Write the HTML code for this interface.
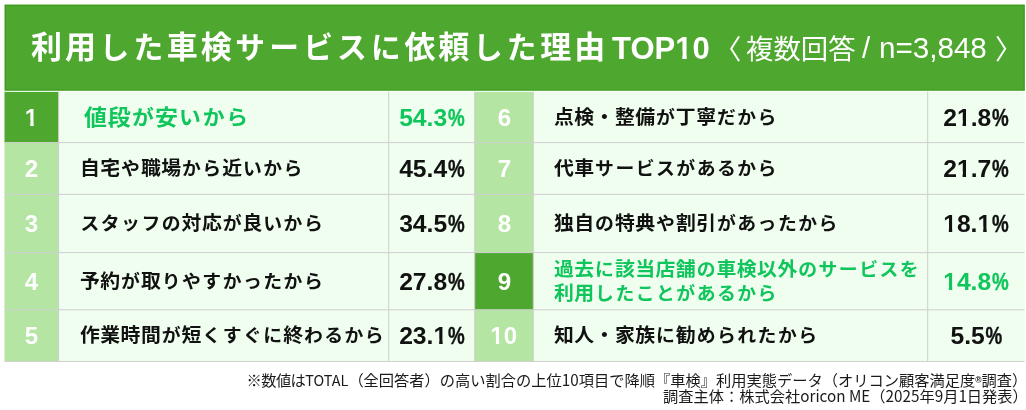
<!DOCTYPE html>
<html lang="ja">
<head>
<meta charset="utf-8">
<title>利用した車検サービスに依頼した理由 TOP10</title>
<style>
html,body{margin:0;padding:0;background:#fff;}
body{width:1026px;height:410px;position:relative;overflow:hidden;
  font-family:"Liberation Sans","Noto Sans CJK JP",sans-serif;color:#111;}
svg.bg{position:absolute;left:0;top:0;}
.t{position:absolute;white-space:nowrap;line-height:1;}
.t,.c span{will-change:transform;}
.title{color:#fff;}
.tj{left:31.3px;top:32.3px;font-family:"Liberation Sans","Noto Sans CJK JP",sans-serif;font-weight:700;font-size:31px;letter-spacing:2.95px;}
.tl{left:612px;top:33.2px;font-family:"Liberation Sans",sans-serif;font-weight:700;font-size:31px;}
.sj{font-family:"Liberation Sans","Noto Sans CJK JP",sans-serif;font-weight:400;font-size:27.4px;top:36px;}
.sl{font-family:"Liberation Sans",sans-serif;font-weight:400;font-size:29.6px;top:32.6px;}
.c{position:absolute;display:flex;align-items:center;box-sizing:border-box;white-space:nowrap;line-height:1.2;}
.c span{display:block;}
.num{justify-content:center;font-weight:700;font-size:23px;padding-top:3px;color:#fff;font-family:"Liberation Sans",sans-serif;}
.lab{padding-left:21px;font-family:"Liberation Sans","Noto Sans CJK JP",sans-serif;font-weight:700;font-size:19px;letter-spacing:.43px;color:#111;padding-top:2px;line-height:1.285;}
.lab span{transform:scaleX(1.045);transform-origin:0 50%;}
.lab.big{font-size:21.5px;letter-spacing:.62px;padding-left:25px;padding-top:4px;}
.lab.big span{transform:scaleX(1.07);}
.val{justify-content:center;font-weight:700;font-size:23.3px;padding-top:3.2px;color:#111;font-family:"Liberation Sans",sans-serif;}
b.o{display:inline-block;line-height:1;font-weight:inherit;clip-path:polygon(0 0,66.8% 0,66.8% 100%,41.4% 100%,41.4% 58%,0 58%);}
.val span{transform:scaleX(1.06);}
.num span{transform:scaleX(1.05);}
b.p{display:inline-block;line-height:1;font-weight:inherit;transform:scaleX(.76);transform-origin:0 50%;-webkit-text-stroke:.4px currentColor;margin-right:-.2em;margin-left:.03em;}
i.k{font-style:normal;font-size:.95em;letter-spacing:.078em;position:relative;left:.025em;}
.tj i.k{font-size:.96em;letter-spacing:.1408em;left:.02em;}
.hl{color:#10c65c;}
.note{right:-1.5px;text-align:right;font-size:15.25px;color:#1a1a1a;font-family:"Noto Sans CJK JP","Liberation Sans",sans-serif;font-weight:400;}
.note .lt2{font-size:14.4px;}
.note sup{font-size:8.5px;font-weight:700;vertical-align:3.5px;line-height:0;font-family:"Liberation Sans",sans-serif;}
</style>
</head>
<body>
<svg class="bg" width="1026" height="410" viewBox="0 0 1026 410">
<rect x="4.5" y="4.5" width="1020.2" height="86.1" fill="#4ea72e"/>
<rect x="5" y="5" width="1019.6" height="1" fill="#3d9a1f"/>
<rect x="5" y="5" width="1" height="85.5" fill="#3d9a1f"/>
<rect x="1023.6" y="5" width="1" height="85.5" fill="#3d9a1f"/>
<rect x="5" y="89.6" width="1019.6" height="1" fill="#3d9a1f"/>
<rect x="4.5" y="91.5" width="1020.1" height="269.7" fill="#effeee"/>
<rect x="4.5" y="91.5" width="54.1" height="51.1" fill="#4ea72e"/>
<rect x="4.5" y="142.6" width="54.1" height="51.8" fill="#b4e5a2"/>
<rect x="4.5" y="194.4" width="54.1" height="58.2" fill="#b4e5a2"/>
<rect x="4.5" y="252.6" width="54.1" height="57.2" fill="#b4e5a2"/>
<rect x="4.5" y="309.8" width="54.1" height="51.4" fill="#b4e5a2"/>
<rect x="474.7" y="91.5" width="58.6" height="51.1" fill="#b4e5a2"/>
<rect x="474.7" y="142.6" width="58.6" height="51.8" fill="#b4e5a2"/>
<rect x="474.7" y="194.4" width="58.6" height="58.2" fill="#b4e5a2"/>
<rect x="474.7" y="252.6" width="58.6" height="57.2" fill="#4ea72e"/>
<rect x="474.7" y="309.8" width="58.6" height="51.4" fill="#b4e5a2"/>
<rect x="4.5" y="90.9" width="1020.2" height="1.1" fill="#f4fff2" fill-opacity=".8"/>
<rect x="4.5" y="142.10" width="1020.1" height="1" fill="#cfcfcf"/>
<rect x="4.5" y="193.90" width="1020.1" height="1" fill="#cfcfcf"/>
<rect x="4.5" y="252.10" width="1020.1" height="1" fill="#cfcfcf"/>
<rect x="4.5" y="309.30" width="1020.1" height="1" fill="#cfcfcf"/>
<rect x="4.5" y="360.95" width="1020.1" height="1" fill="#cfcfcf"/>
<rect x="58.1" y="91.5" width="1" height="269.7" fill="#cfcfcf"/>
<rect x="388.2" y="91.5" width="1" height="269.7" fill="#cfcfcf"/>
<rect x="474.2" y="91.5" width="1" height="269.7" fill="#cfcfcf"/>
<rect x="532.8" y="91.5" width="1" height="269.7" fill="#cfcfcf"/>
<rect x="927.2" y="91.5" width="1" height="269.7" fill="#cfcfcf"/>
</svg>
<div class="t title tj">利用<i class="k">した</i>車検<i class="k">サービスに</i>依頼<i class="k">した</i>理由</div>
<div class="t title tl">TOP<b class="o">1</b>0</div>
<div class="t title sj" style="left:714px">〈</div>
<div class="t title sj" style="left:746px">複数回答</div>
<div class="t title sl" style="left:862px">/</div>
<div class="t title sl" style="left:879px">n=3,848</div>
<div class="t title sj" style="left:995px">〉</div>
<div class="c num" style="left:4.5px;top:91.5px;width:54.1px;height:51.1px"><span><b class="o">1</b></span></div>
<div class="c lab hl big" style="left:58.6px;top:91.5px;width:330.1px;height:51.1px"><span>値段<i class="k">が</i>安<i class="k">いから</i></span></div>
<div class="c val hl" style="left:388.7px;top:91.5px;width:86.0px;height:51.1px"><span>54.3<b class="p">%</b></span></div>
<div class="c num" style="left:4.5px;top:142.6px;width:54.1px;height:51.8px"><span>2</span></div>
<div class="c lab" style="left:58.6px;top:142.6px;width:330.1px;height:51.8px"><span>自宅<i class="k">や</i>職場<i class="k">から</i>近<i class="k">いから</i></span></div>
<div class="c val" style="left:388.7px;top:142.6px;width:86.0px;height:51.8px"><span>45.4<b class="p">%</b></span></div>
<div class="c num" style="left:4.5px;top:194.4px;width:54.1px;height:58.2px"><span>3</span></div>
<div class="c lab" style="left:58.6px;top:194.4px;width:330.1px;height:58.2px"><span><i class="k">スタッフの</i>対応<i class="k">が</i>良<i class="k">いから</i></span></div>
<div class="c val" style="left:388.7px;top:194.4px;width:86.0px;height:58.2px"><span>34.5<b class="p">%</b></span></div>
<div class="c num" style="left:4.5px;top:252.6px;width:54.1px;height:57.2px"><span>4</span></div>
<div class="c lab" style="left:58.6px;top:252.6px;width:330.1px;height:57.2px"><span>予約<i class="k">が</i>取<i class="k">りやすかったから</i></span></div>
<div class="c val" style="left:388.7px;top:252.6px;width:86.0px;height:57.2px"><span>27.8<b class="p">%</b></span></div>
<div class="c num" style="left:4.5px;top:309.8px;width:54.1px;height:51.4px"><span>5</span></div>
<div class="c lab" style="left:58.6px;top:309.8px;width:330.1px;height:51.4px"><span>作業時間<i class="k">が</i>短<i class="k">くすぐに</i>終<i class="k">わるから</i></span></div>
<div class="c val" style="left:388.7px;top:309.8px;width:86.0px;height:51.4px"><span>23.<b class="o">1</b><b class="p">%</b></span></div>
<div class="c num" style="left:474.7px;top:91.5px;width:58.6px;height:51.1px"><span>6</span></div>
<div class="c lab" style="left:533.3px;top:91.5px;width:394.4px;height:51.1px"><span>点検・整備<i class="k">が</i>丁寧<i class="k">だから</i></span></div>
<div class="c val" style="left:927.7px;top:91.5px;width:96.9px;height:51.1px"><span>2<b class="o">1</b>.8<b class="p">%</b></span></div>
<div class="c num" style="left:474.7px;top:142.6px;width:58.6px;height:51.8px"><span>7</span></div>
<div class="c lab" style="left:533.3px;top:142.6px;width:394.4px;height:51.8px"><span>代車<i class="k">サービスがあるから</i></span></div>
<div class="c val" style="left:927.7px;top:142.6px;width:96.9px;height:51.8px"><span>2<b class="o">1</b>.7<b class="p">%</b></span></div>
<div class="c num" style="left:474.7px;top:194.4px;width:58.6px;height:58.2px"><span>8</span></div>
<div class="c lab" style="left:533.3px;top:194.4px;width:394.4px;height:58.2px"><span>独自<i class="k">の</i>特典<i class="k">や</i>割引<i class="k">があったから</i></span></div>
<div class="c val" style="left:927.7px;top:194.4px;width:96.9px;height:58.2px"><span><b class="o">1</b>8.<b class="o">1</b><b class="p">%</b></span></div>
<div class="c num" style="left:474.7px;top:252.6px;width:58.6px;height:57.2px"><span>9</span></div>
<div class="c lab hl" style="left:533.3px;top:252.6px;width:394.4px;height:57.2px"><span>過去<i class="k">に</i>該当店舗<i class="k">の</i>車検以外<i class="k">のサービスを</i><br>利用<i class="k">したことがあるから</i></span></div>
<div class="c val hl" style="left:927.7px;top:252.6px;width:96.9px;height:57.2px"><span><b class="o">1</b>4.8<b class="p">%</b></span></div>
<div class="c num" style="left:474.7px;top:309.8px;width:58.6px;height:51.4px"><span><b class="o">1</b>0</span></div>
<div class="c lab" style="left:533.3px;top:309.8px;width:394.4px;height:51.4px"><span>知人・家族<i class="k">に</i>勧<i class="k">められたから</i></span></div>
<div class="c val" style="left:927.7px;top:309.8px;width:96.9px;height:51.4px"><span>5.5<b class="p">%</b></span></div>
<div class="t note" style="top:371.8px"><span class="lt" style="margin-left:-1.5px;letter-spacing:-0.55px">※数値は</span><span class="lt2">TOTAL</span>（全回答者）の高い割合の上位10項目で降順『車検』利用実態データ（オリコン顧客満足度<sup>®</sup>調査）</div>
<div class="t note" style="top:387.9px">調査主体：株式会社oricon ME（2025年9月1日発表）</div>
</body>
</html>
